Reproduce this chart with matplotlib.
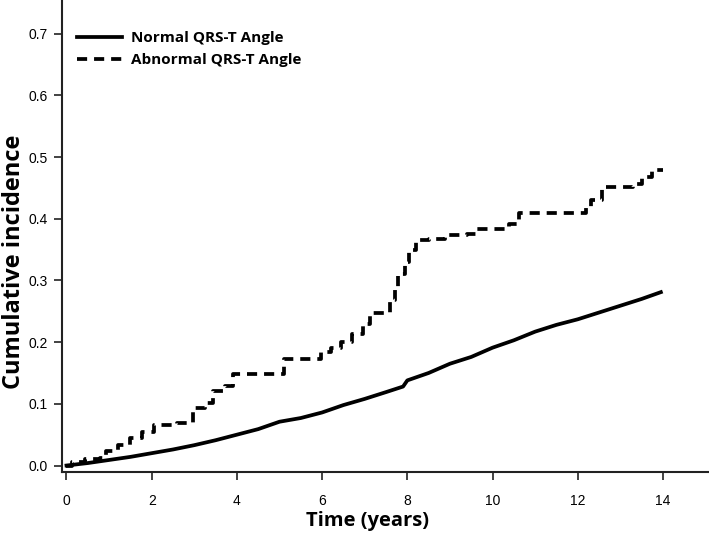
import matplotlib.pyplot as plt

# Curva normal (ángulo QRS-T normal)
t_normal = [0.0, 0.5, 1.0, 1.5, 2.0, 2.5, 3.0, 3.5, 4.0, 4.5, 5.0, 5.5, 6.0, 6.5,
            7.0, 7.5, 7.9, 8.0, 8.5, 9.0, 9.5, 10.0, 10.5, 11.0, 11.5, 12.0,
            12.5, 13.0, 13.5, 13.95]
v_normal = [0.0, 0.004, 0.009, 0.014, 0.020, 0.026, 0.033, 0.041, 0.050, 0.059,
            0.071, 0.077, 0.086, 0.098, 0.108, 0.119, 0.128, 0.138, 0.150, 0.165,
            0.176, 0.191, 0.203, 0.217, 0.228, 0.237, 0.248, 0.259, 0.270, 0.281]

# Curva anormal (escalones)
t_abnormal = [0.0, 0.12, 0.43, 0.79, 0.92, 1.2, 1.5, 1.78, 2.05, 2.6, 2.98, 3.25,
              3.45, 3.72, 3.9, 5.1, 5.98, 6.2, 6.45, 6.7, 6.95, 7.12, 7.6, 7.7,
              7.78, 7.95, 8.05, 8.2, 8.5, 8.88, 9.4, 9.6, 10.38, 10.63, 12.2,
              12.3, 12.57, 13.3, 13.5, 13.75, 14.0]
v_abnormal = [0.0, 0.006, 0.010, 0.013, 0.024, 0.033, 0.044, 0.055, 0.065, 0.069,
              0.093, 0.102, 0.120, 0.129, 0.148, 0.173, 0.184, 0.190, 0.200, 0.213,
              0.229, 0.247, 0.268, 0.290, 0.311, 0.330, 0.349, 0.365, 0.367, 0.373,
              0.376, 0.383, 0.392, 0.409, 0.419, 0.431, 0.452, 0.457, 0.467, 0.479,
              0.479]

labels = ["Normal QRS-T Angle", "Abnormal QRS-T Angle"]
x_ticks = [0, 2, 4, 6, 8, 10, 12, 14]
y_ticks = [0.0, 0.1, 0.2, 0.3, 0.4, 0.5, 0.6, 0.7]

fig = plt.figure(figsize=(7.09, 5.34), dpi=100)
ax = fig.add_axes([0.0874, 0.1161, 0.9126, 0.8839])

ax.plot(t_normal, v_normal, color="black", linewidth=2.7, label=labels[0])
ax.plot(t_abnormal, v_abnormal, color="black", linewidth=2.7, drawstyle="steps-post",
        linestyle=(0, (2.7, 1.85)), label=labels[1])

ax.set_xlim(-0.106, 15.08)
ax.set_ylim(-0.0105, 0.7545)
ax.set_xticks(x_ticks)
ax.set_yticks(y_ticks)
ax.set_xticklabels([str(x) for x in x_ticks])
ax.set_yticklabels([f"{y:.1f}" for y in y_ticks])

for s in ["top", "right"]:
    ax.spines[s].set_visible(False)
for s in ["left", "bottom"]:
    ax.spines[s].set_linewidth(1.5)
    ax.spines[s].set_color("#222222")

ax.tick_params(axis="x", length=6, width=1.2, pad=10, labelsize=10, color="#222222")
ax.tick_params(axis="y", length=6, width=1.2, pad=4, labelsize=10, color="#222222")
for lbl in ax.get_xticklabels() + ax.get_yticklabels():
    lbl.set_family("Liberation Sans")

ax.set_xlabel("Time (years)", fontsize=14.5, fontweight="bold", family="Open Sans")
ax.set_ylabel("Cumulative incidence", fontsize=17, fontweight="bold", family="Open Sans")
ax.xaxis.set_label_coords(0.472, -0.083)
ax.yaxis.set_label_coords(-0.0555, 0.446)

leg = ax.legend(loc="upper left", bbox_to_anchor=(0.024, 0.9345), frameon=False,
                borderaxespad=0, borderpad=0, handlelength=2.9, handletextpad=0.6,
                labelspacing=0.56, prop={"family": "Open Sans", "weight": "bold", "size": 11})

plt.savefig("out.png", dpi=100)
plt.close(fig)
